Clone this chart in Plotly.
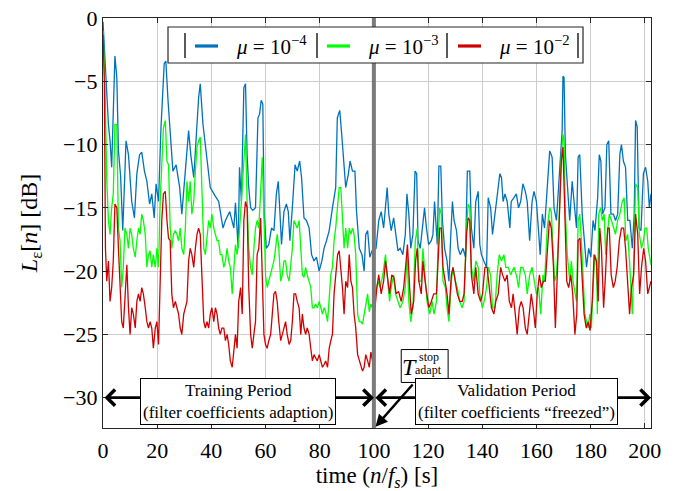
import plotly.graph_objects as go

# ---------------- data ----------------
blue_t = [0, 1.0, 2.0, 2.6, 3.2, 4.4, 5.1, 5.7, 6.5, 7.3, 8.5, 9.4, 10.6, 11.6, 12.5, 13.5, 14.3, 15.3, 16.2, 17.2,
          18.0, 18.9, 19.6, 20.5, 21.4, 22.6, 23.2, 24.0, 24.8, 25.8, 27.0, 28.3, 29.1, 30.4, 31.6, 32.5, 33.5, 35.3,
          35.9, 36.9, 38.1, 39.6, 41.5, 42.7, 44.3, 45.2, 46.8, 48.3, 48.9, 49.9, 50.4, 51.1, 52.0, 52.6, 53.2, 53.8,
          54.5, 55.3, 56.3, 57.2, 57.8, 58.4, 59.0, 59.5, 60.3, 61.2, 62.2, 63.1, 64.0, 64.7, 65.3, 65.9, 66.8, 67.7,
          68.4, 69.0, 69.9, 70.9, 71.7, 72.6, 73.3, 74.2, 75.1, 76.1, 77.0, 77.9, 78.8, 79.8, 80.8, 81.6, 82.5, 83.5,
          84.7, 85.9, 86.5, 87.4, 88.2, 89.0, 89.6, 90.6, 91.2, 92.1, 93.0, 93.6, 94.6, 95.6, 96.4, 97.0, 97.7, 98.5,
          99.3, 100.1, 100.8, 101.8, 102.7, 103.6, 104.3, 104.9, 105.5, 106.4, 107.3, 108.0, 108.9, 109.7, 110.7,
          111.6, 112.2, 112.9, 113.6, 114.4, 115.2, 115.8, 116.3, 117.1, 118.1, 118.7, 119.4, 120.2, 121.2, 121.8,
          122.4, 123.4, 124.0, 124.7, 125.3, 126.1, 127.0, 127.7, 128.4, 129.0, 129.6, 130.5, 131.1, 131.9, 132.9,
          133.8, 134.5, 135.4, 136.0, 136.9, 137.6, 138.5, 139.1, 139.7, 140.6, 141.6, 142.2, 143.1, 143.8, 144.7,
          145.5, 146.5, 147.1, 147.7, 148.4, 149.2, 150.2, 150.7, 151.7, 152.6, 153.4, 154.2, 155.0, 155.9, 156.6,
          157.5, 158.4, 159.1, 160.0, 160.6, 161.4, 162.2, 163.0, 164.0, 164.9, 165.8, 166.5, 167.4, 168.2, 169.0,
          169.5, 169.8, 170.2, 170.7, 171.4, 172.3, 173.2, 173.9, 174.8, 175.4, 176.0, 176.9, 177.6, 178.5, 179.3,
          180.1, 180.9, 181.6, 182.6, 183.2, 183.8, 184.4, 185.3, 186.0, 186.7, 187.5, 188.4, 189.2, 190.0, 190.8,
          191.4, 192.1, 192.9, 193.7, 194.5, 195.4, 196.1, 196.6, 197.2, 197.9, 198.6, 199.5, 200.3, 201.1, 201.7,
          202.3]
blue_v = [-0.3, -4.5, -8.4, -9.7, -11.8, -3.0, -4.7, -10.5, -12.5, -16.8, -9.7, -10.8, -14.5, -15.8, -12.3, -10.8,
          -10.6, -12.1, -12.9, -14.7, -13.9, -15.8, -13.1, -14.5, -8.7, -3.6, -3.4, -6.5, -9.4, -12.1, -11.6, -13.4,
          -15.5, -12.3, -8.9, -11.0, -12.6, -6.3, -5.2, -8.4, -10.8, -13.4, -14.1, -14.5, -16.6, -16.0, -15.3, -16.6,
          -14.6, -18.2, -11.8, -14.5, -5.5, -5.2, -10.8, -13.4, -15.0, -15.2, -15.0, -7.9, -7.6, -6.5, -6.8, -15.5,
          -18.2, -17.9, -16.6, -16.8, -13.9, -12.9, -15.3, -17.9, -15.3, -14.7, -15.3, -17.6, -15.0, -11.6, -12.1,
          -11.3, -12.6, -15.8, -16.0, -16.6, -18.7, -19.2, -18.9, -20.0, -19.2, -18.2, -17.6, -16.8, -15.0, -13.4,
          -7.9, -7.3, -9.4, -11.8, -13.4, -12.3, -11.3, -12.1, -12.1, -15.3, -18.2, -18.7, -20.0, -17.1, -16.8,
          -18.9, -18.4, -18.4, -18.2, -16.0, -15.3, -16.6, -14.5, -13.4, -15.5, -16.8, -15.8, -17.1, -18.4, -18.2,
          -18.7, -17.1, -13.9, -15.5, -18.2, -17.1, -12.1, -12.3, -17.6, -18.2, -16.0, -15.0, -16.6, -17.9, -17.6,
          -17.1, -14.5, -17.9, -11.7, -11.7, -16.0, -18.2, -19.2, -20.8, -17.1, -14.5, -16.0, -16.8, -18.2, -18.7,
          -18.2, -18.9, -12.1, -12.1, -16.6, -18.2, -14.5, -13.7, -17.9, -18.7, -19.2, -19.7, -14.2, -15.0, -17.1,
          -15.5, -14.5, -12.3, -12.6, -14.5, -13.9, -14.5, -16.6, -14.5, -14.2, -13.9, -15.0, -14.5, -13.1, -13.7,
          -14.5, -17.6, -14.5, -13.7, -14.5, -16.0, -18.7, -15.5, -16.6, -13.4, -10.5, -11.0, -15.0, -16.0, -13.4,
          -10.8, -8.9, -4.6, -4.7, -10.8, -12.9, -16.0, -12.9, -14.7, -16.6, -11.0, -10.8, -15.5, -17.6, -19.7,
          -18.2, -18.9, -16.0, -16.8, -14.2, -10.8, -11.3, -15.5, -15.0, -10.0, -9.7, -15.5, -15.5, -16.0, -15.5,
          -10.8, -10.0, -11.3, -11.8, -16.0, -16.0, -18.2, -15.5, -8.1, -8.6, -16.6, -16.8, -12.3, -11.8, -12.9,
          -15.0, -13.9]

green_t = [0, 0.7, 1.4, 2.0, 2.6, 3.2, 3.8, 4.4, 5.1, 5.7, 6.3, 6.9, 7.5, 8.1, 8.8, 9.4, 10.0, 10.6, 11.2, 11.9,
           12.5, 13.1, 13.7, 14.3, 14.9, 15.6, 16.2, 16.8, 17.4, 18.0, 18.6, 19.3, 19.9, 20.5, 21.1, 21.7, 22.3,
           23.0, 23.6, 24.2, 24.8, 25.4, 26.0, 26.7, 27.3, 27.9, 28.5, 29.1, 29.8, 30.4, 31.0, 31.6, 32.2, 32.8,
           33.5, 34.1, 34.7, 35.3, 35.9, 36.5, 37.2, 37.8, 38.4, 39.0, 39.6, 40.2, 40.9, 41.5, 42.1, 42.7, 43.3,
           43.9, 44.6, 45.2, 45.8, 46.4, 47.0, 47.7, 48.3, 48.9, 49.5, 50.1, 50.8, 51.4, 52.0, 52.6, 53.2, 53.8,
           54.5, 55.1, 55.7, 56.3, 56.9, 57.5, 58.2, 58.8, 59.4, 60.0, 60.6, 61.2, 61.9, 62.5, 63.1, 63.7, 64.3,
           64.9, 65.6, 66.2, 66.8, 67.4, 68.0, 68.7, 69.3, 69.9, 70.5, 71.1, 71.7, 72.4, 73.0, 73.6, 74.2, 74.8,
           75.4, 76.1, 76.7, 77.3, 77.9, 78.5, 79.1, 79.8, 80.4, 81.0, 81.6, 82.2, 82.9, 83.5, 84.1, 84.7, 85.3,
           85.9, 86.6, 87.2, 87.8, 88.4, 89.0, 89.6, 90.3, 90.9, 91.5, 92.1, 92.7, 93.3, 94.0, 94.6, 95.2, 95.8,
           96.4, 97.0, 97.7, 98.3, 98.9, 99.5, 100.1, 101.5, 102.3, 103.3, 104.3, 104.9, 105.8, 106.4, 107.3,
           108.0, 108.9, 109.7, 110.7, 111.6, 112.3, 112.9, 113.6, 114.4, 115.3, 116.0, 116.6, 117.5, 118.1,
           118.7, 119.6, 120.6, 121.5, 122.2, 123.1, 123.8, 124.3, 124.9, 125.5, 126.4, 127.0, 127.7, 128.6,
           129.2, 130.1, 130.8, 131.7, 132.6, 133.3, 134.2, 134.8, 135.4, 136.0, 136.9, 137.6, 138.5, 139.1,
           140.0, 140.7, 141.6, 142.2, 143.1, 143.8, 144.7, 145.5, 146.3, 147.1, 148.0, 148.7, 149.6, 150.5,
           151.7, 152.6, 153.4, 154.2, 155.0, 155.9, 156.6, 157.5, 158.4, 159.1, 160.0, 160.8, 161.6, 162.4,
           163.0, 164.0, 164.9, 165.5, 166.1, 166.7, 167.4, 168.0, 168.6, 169.2, 169.8, 170.2, 170.7, 171.4,
           172.3, 172.9, 173.5, 174.2, 174.8, 175.4, 176.0, 176.6, 177.2, 177.9, 178.5, 179.1, 179.7, 180.3,
           180.9, 181.6, 182.2, 182.5, 183.0, 183.7, 184.3, 185.0, 185.6, 186.3, 186.9, 187.7, 188.4, 189.2,
           190.0, 190.8, 191.7, 192.4, 193.0, 193.7, 194.5, 195.4, 196.1, 196.6, 197.4, 198.0, 198.8, 199.5,
           200.1, 200.7, 201.3, 201.9, 202.3]
green_v = [-1.0, -5.0, -12.9, -16.0, -17.1, -15.0, -13.9, -8.4, -8.4, -16.6, -17.6, -21.3, -19.7, -16.6, -17.1,
           -18.2, -16.6, -17.1, -18.2, -18.9, -17.6, -16.6, -17.1, -15.5, -16.0, -17.1, -19.7, -18.7, -18.4, -19.7,
           -18.7, -19.7, -18.2, -19.7, -14.5, -10.8, -8.7, -8.1, -11.3, -11.6, -16.6, -18.2, -17.1, -16.8, -17.1,
           -17.6, -16.6, -18.2, -18.7, -16.6, -12.9, -14.5, -12.9, -15.5, -14.5, -12.1, -10.2, -9.7, -9.4, -13.4,
           -18.2, -18.7, -17.1, -16.0, -16.6, -15.5, -16.6, -17.1, -17.6, -17.6, -18.7, -18.7, -19.7, -19.2, -18.2,
           -19.2, -19.7, -21.8, -19.7, -17.9, -18.7, -17.6, -15.5, -13.4, -11.0, -9.2, -14.5, -18.2, -19.7, -20.3,
           -18.2, -16.6, -16.0, -16.6, -13.7, -11.0, -15.5, -20.3, -21.3, -20.8, -20.3, -19.7, -19.2, -18.2, -17.1,
           -18.2, -20.8, -20.3, -19.2, -19.2, -20.3, -20.8, -19.7, -18.2, -16.0, -16.3, -16.6, -16.0, -18.2, -20.3,
           -20.5, -19.7, -20.3, -20.8, -21.3, -22.9, -22.9, -22.6, -22.9, -22.4, -22.9, -23.4, -22.9, -23.2, -24.0,
           -21.8, -20.3, -19.7, -17.6, -16.6, -14.5, -13.4, -13.4, -15.5, -18.2, -16.6, -18.2, -16.6, -17.1, -16.6,
           -17.1, -18.7, -23.4, -24.0, -24.0, -24.2, -23.4, -22.4, -21.8, -23.2, -22.6, -22.9, -22.4, -20.8, -21.3,
           -20.3, -18.7, -20.3, -22.4, -21.3, -20.3, -21.8, -22.4, -22.9, -22.4, -21.3, -18.7, -22.4, -24.0, -22.9,
           -17.6, -16.6, -20.8, -20.8, -18.2, -19.7, -22.4, -23.4, -22.4, -23.4, -22.4, -17.1, -15.0, -15.5, -20.8,
           -21.3, -22.9, -24.0, -20.8, -19.7, -20.8, -21.3, -22.4, -22.9, -22.4, -16.6, -14.7, -15.0, -19.7, -20.8,
           -19.2, -19.7, -21.8, -22.9, -22.4, -21.3, -19.7, -20.3, -22.9, -22.9, -20.3, -18.7, -19.2, -18.7, -19.7,
           -19.7, -20.3, -19.7, -20.3, -21.3, -19.7, -19.7, -20.3, -21.8, -20.3, -19.7, -20.8, -21.8, -21.3, -23.4,
           -20.3, -20.8, -16.6, -15.0, -15.3, -18.2, -20.8, -20.3, -18.2, -14.5, -10.8, -9.2, -9.7, -15.5, -18.7,
           -20.8, -19.2, -20.8, -21.8, -22.4, -16.0, -15.5, -17.6, -20.8, -23.4, -24.0, -24.5, -23.4, -24.5, -21.3,
           -18.7, -19.2, -23.4, -15.5, -15.0, -16.0, -15.5, -18.7, -16.6, -15.5, -16.0, -16.6, -17.1, -16.0, -15.5,
           -14.5, -14.2, -17.6, -17.1, -19.7, -23.4, -18.2, -13.1, -13.4, -17.1, -18.2, -17.6, -16.6, -16.6, -18.2,
           -19.2, -19.5]

red_t = [0, 0.5, 0.9, 1.4, 2.0, 2.6, 3.2, 3.8, 4.4, 5.1, 5.7, 6.3, 6.9, 7.5, 8.1, 8.8, 9.4, 10.0, 10.6, 11.2, 11.9,
         12.5, 13.1, 13.7, 14.3, 14.9, 15.6, 16.2, 16.8, 17.4, 18.0, 18.6, 19.3, 19.9, 20.5, 21.1, 21.7, 22.3, 23.0,
         23.6, 24.2, 24.8, 25.4, 26.0, 26.7, 27.3, 27.9, 28.5, 29.1, 29.8, 30.4, 31.0, 31.6, 32.2, 32.8, 33.5, 34.1,
         34.7, 35.3, 35.9, 36.5, 37.2, 37.8, 38.4, 39.0, 39.6, 40.2, 40.9, 41.5, 42.1, 42.7, 43.3, 43.9, 44.6, 45.2,
         45.8, 46.4, 47.0, 47.7, 48.3, 48.9, 49.5, 50.1, 50.8, 51.4, 52.0, 52.6, 53.2, 53.8, 54.5, 55.1, 55.7, 56.3,
         56.9, 57.5, 58.2, 58.8, 59.4, 60.0, 60.6, 61.2, 61.9, 62.5, 63.1, 63.7, 64.3, 64.9, 65.6, 66.2, 66.8, 67.4,
         68.0, 68.7, 69.3, 69.9, 70.5, 71.1, 71.7, 72.4, 73.0, 73.6, 74.2, 74.8, 75.4, 76.1, 76.7, 77.3, 77.9, 78.5,
         79.1, 79.8, 80.4, 81.0, 81.6, 82.2, 82.9, 83.5, 84.1, 84.7, 85.3, 85.9, 86.6, 87.2, 87.8, 88.4, 89.0, 89.6,
         90.3, 90.9, 91.5, 92.1, 92.7, 93.3, 94.0, 94.6, 95.2, 95.8, 96.4, 97.0, 97.7, 98.3, 98.9, 99.5, 100.0,
         100.2, 101.1, 101.8, 102.7, 103.6, 104.3, 105.2, 105.8, 106.6, 107.4, 108.2, 109.1, 110.1, 111.0, 111.7,
         112.4, 113.2, 113.8, 114.7, 115.4, 116.0, 116.6, 117.5, 118.1, 118.9, 119.6, 120.3, 121.2, 122.1, 123.1,
         123.8, 124.3, 124.9, 125.5, 126.3, 127.0, 127.7, 128.6, 129.2, 130.1, 130.8, 131.7, 132.6, 133.3, 134.2,
         134.8, 135.4, 136.0, 136.9, 137.6, 138.5, 139.4, 140.1, 141.0, 141.8, 142.6, 143.4, 144.3, 145.0, 145.9,
         146.8, 147.5, 148.4, 149.2, 150.0, 150.8, 151.4, 152.2, 152.9, 153.7, 154.4, 155.1, 155.9, 156.6, 157.4,
         158.1, 158.8, 159.6, 160.3, 161.1, 161.8, 162.6, 163.3, 164.0, 164.8, 165.5, 166.3, 167.0, 167.7, 168.5,
         169.2, 169.8, 170.5, 171.2, 171.9, 172.7, 173.4, 174.2, 174.9, 175.4, 176.1, 176.9, 177.6, 178.4, 179.1,
         179.8, 180.6, 181.3, 182.1, 182.8, 183.4, 184.0, 184.8, 185.5, 186.3, 186.9, 187.6, 188.4, 189.1, 189.8,
         190.6, 191.4, 192.2, 192.9, 193.7, 194.4, 195.1, 195.9, 196.6, 197.4, 198.1, 198.8, 199.6, 200.3, 201.1,
         201.8, 202.3]
red_v = [-1.3, -5.0, -18.2, -20.8, -19.2, -22.4, -21.3, -19.2, -14.7, -15.0, -18.2, -21.8, -24.0, -24.5, -22.4,
         -19.5, -22.9, -25.0, -22.9, -23.4, -24.5, -22.4, -21.8, -22.4, -21.3, -21.8, -22.9, -24.0, -24.5, -24.0,
         -24.5, -26.1, -24.5, -24.0, -25.8, -20.8, -16.0, -13.9, -13.7, -16.0, -17.4, -17.6, -21.8, -22.9, -22.4,
         -22.9, -23.4, -24.5, -25.0, -23.4, -22.9, -22.4, -19.2, -18.2, -18.7, -19.7, -18.2, -17.1, -16.6, -17.1,
         -20.3, -24.0, -24.5, -24.0, -24.5, -23.4, -22.9, -24.0, -22.9, -23.4, -24.5, -25.0, -24.5, -24.5, -25.5,
         -25.0, -25.8, -27.1, -27.6, -26.1, -25.0, -26.1, -22.4, -21.3, -23.4, -16.0, -14.5, -15.0, -21.3, -25.0,
         -26.1, -25.0, -24.0, -18.7, -18.2, -15.8, -19.7, -25.0, -25.8, -26.1, -25.5, -25.0, -23.4, -21.8, -21.6,
         -22.4, -24.0, -25.5, -25.0, -24.5, -24.0, -25.0, -25.8, -25.5, -24.0, -21.8, -21.8, -22.4, -22.9, -25.0,
         -23.4, -24.5, -25.0, -24.5, -25.0, -26.1, -27.1, -26.6, -26.9, -27.1, -26.6, -27.1, -27.6, -27.4, -27.1,
         -27.6, -26.1, -25.5, -25.0, -21.8, -20.3, -18.7, -18.4, -19.7, -21.3, -23.4, -20.8, -21.3, -18.7, -20.8,
         -21.3, -23.4, -24.5, -26.6, -27.1, -27.6, -27.9, -27.6, -26.6, -27.1, -27.6, -26.4, -27.1, -28.2, -23.4,
         -21.3, -20.3, -21.8, -20.8, -19.2, -20.8, -21.8, -20.3, -20.5, -21.8, -21.6, -22.4, -21.3, -19.7, -17.9,
         -21.3, -23.4, -22.4, -19.2, -18.2, -20.8, -21.8, -19.2, -20.8, -21.8, -22.9, -22.4, -21.8, -21.8, -18.7,
         -16.6, -16.6, -19.7, -20.8, -21.8, -23.4, -20.3, -19.7, -20.8, -21.8, -22.4, -22.4, -21.8, -17.1, -15.8,
         -16.0, -20.3, -21.8, -19.7, -21.8, -22.4, -21.8, -19.7, -19.7, -21.3, -22.9, -23.4, -22.4, -21.8, -19.7,
         -20.3, -20.8, -20.3, -22.4, -22.9, -21.8, -23.4, -25.0, -22.9, -22.4, -22.9, -24.5, -25.0, -23.4, -21.8,
         -22.9, -24.5, -21.8, -20.3, -21.3, -20.8, -20.8, -18.2, -16.0, -16.6, -19.7, -24.5, -20.0, -16.0, -11.3,
         -10.2, -16.0, -20.8, -21.3, -20.3, -21.8, -25.0, -23.4, -17.6, -17.4, -20.8, -23.4, -24.5, -24.0, -24.7,
         -22.4, -18.7, -19.2, -22.4, -16.6, -18.2, -22.9, -20.3, -16.6, -16.6, -20.3, -21.3, -20.8, -19.7, -17.6,
         -16.6, -16.6, -18.2, -20.8, -23.4, -21.3, -20.3, -15.5, -17.1, -21.8, -19.7, -18.2, -19.2, -21.8, -21.3,
         -20.8]

series_names = ["<i>μ</i> = 10<sup>−4</sup>", "<i>μ</i> = 10<sup>−3</sup>", "<i>μ</i> = 10<sup>−2</sup>"]
series_colors = ["#0072BD", "#00FF00", "#D00000"]

x_ticks = list(range(0, 201, 20))
y_ticks = list(range(-30, 1, 5))
t_stop = 100
x_max = 202.3
y_min = -32.4

FONT = "Liberation Serif"

# plot-area geometry in pixels (used only for placing the hand-drawn legend)
L, R, T, B = 103, 23, 18, 63
PW, PH = 674 - L - R, 491 - T - B


def px(xp):
    return (xp - L) / PW


def py(yp):
    return 1 - (yp - T) / PH


fig = go.Figure()
for t, v, nm, col in zip([blue_t, green_t, red_t], [blue_v, green_v, red_v], series_names, series_colors):
    fig.add_trace(go.Scatter(x=t, y=v, mode="lines", name=nm, showlegend=False,
                             line=dict(color=col, width=1.3)))

shapes = []
# thick grey line marking the adaptation stop
shapes.append(dict(type="line", x0=t_stop, x1=t_stop, y0=0, y1=1, xref="x", yref="paper",
                   line=dict(color="#7a7a7a", width=4), layer="above"))
# T_adapt box
shapes.append(dict(type="rect", x0=110.1, x1=127.4, y0=-28.8, y1=-26.2, xref="x", yref="y",
                   line=dict(color="black", width=1), fillcolor="white", layer="above"))

# hand-drawn legend (box, separators, line samples)
shapes.append(dict(type="rect", x0=px(168), x1=px(583), y0=py(63), y1=py(27), xref="paper", yref="paper",
                   line=dict(color="#262626", width=1.2), fillcolor="white", layer="above"))
for bx in [185, 317, 447, 578]:
    shapes.append(dict(type="line", x0=px(bx), x1=px(bx), y0=py(58), y1=py(33), xref="paper", yref="paper",
                       line=dict(color="black", width=1.3), layer="above"))
line_starts = [195, 327, 458]
text_starts = [234, 366, 497]
for ls, col in zip(line_starts, series_colors):
    shapes.append(dict(type="line", x0=px(ls), x1=px(ls + 23), y0=py(46), y1=py(46), xref="paper",
                       yref="paper", line=dict(color=col, width=3.2), layer="above"))

annotations = []
for ts, nm in zip(text_starts, series_names):
    annotations.append(dict(x=px(ts), y=py(45), xref="paper", yref="paper", xanchor="left", yanchor="middle",
                            showarrow=False, text=nm, font=dict(family=FONT, size=21, color="black")))

# double arrows
annotations.append(dict(x=t_stop, y=-30, ax=0, ay=-30, xref="x", yref="y", axref="x", ayref="y",
                        text="", showarrow=True, arrowside="end+start", arrowhead=4, startarrowhead=4,
                        arrowsize=1.2, startarrowsize=1.2, arrowwidth=2.6, arrowcolor="black", standoff=0,
                        startstandoff=0))
annotations.append(dict(x=x_max, y=-30, ax=t_stop, ay=-30, xref="x", yref="y", axref="x", ayref="y",
                        text="", showarrow=True, arrowside="end+start", arrowhead=4, startarrowhead=4,
                        arrowsize=1.2, startarrowsize=1.2, arrowwidth=2.6, arrowcolor="black", standoff=0,
                        startstandoff=0))
# T_adapt arrow
annotations.append(dict(x=100.6, y=-32.3, ax=114.8, ay=-28.85, xref="x", yref="y", axref="x", ayref="y",
                        text="", showarrow=True, arrowhead=2, arrowsize=1.0, arrowwidth=2.4,
                        arrowcolor="black", standoff=0))
# text boxes
annotations.append(dict(x=50, y=-30.3, xref="x", yref="y", showarrow=False,
                        text="Training Period<br>(filter coefficients adaption)",
                        font=dict(family=FONT, size=17, color="black"), align="center",
                        bgcolor="white", bordercolor="black", borderwidth=1, borderpad=2))
annotations.append(dict(x=152.8, y=-30.3, xref="x", yref="y", showarrow=False,
                        text="Validation Period<br>(filter coefficients “freezed”)",
                        font=dict(family=FONT, size=17, color="black"), align="center",
                        bgcolor="white", bordercolor="black", borderwidth=1, borderpad=2))
# T^stop_adapt label
annotations.append(dict(x=113.2, y=-27.55, xref="x", yref="y", showarrow=False, text="<i>T</i>",
                        font=dict(family=FONT, size=24, color="black")))
annotations.append(dict(x=120.2, y=-26.75, xref="x", yref="y", showarrow=False, text="stop",
                        font=dict(family=FONT, size=12, color="black")))
annotations.append(dict(x=120.2, y=-27.85, xref="x", yref="y", showarrow=False, text="adapt",
                        font=dict(family=FONT, size=12, color="black")))

axis_common = dict(showline=True, linecolor="#262626", linewidth=1.3, mirror="allticks",
                   ticks="inside", ticklen=5, tickcolor="#262626", tickwidth=1,
                   showgrid=True, gridcolor="#cccccc", gridwidth=1, zeroline=False, automargin=False,
                   tickfont=dict(family=FONT, size=22, color="black"))

fig.update_layout(
    width=674, height=491,
    margin=dict(l=L, r=R, t=T, b=B),
    paper_bgcolor="white", plot_bgcolor="white",
    font=dict(family=FONT, color="black"),
    xaxis=dict(range=[0, x_max], tickvals=x_ticks, ticklabelstandoff=2,
               title=dict(text="time (<i>n</i>/<i>f<sub>s</sub></i>) [s]",
                          font=dict(family=FONT, size=23), standoff=17),
               **axis_common),
    yaxis=dict(range=[y_min, 0], tickvals=y_ticks,
               title=dict(text="<i>L</i><sub>ε</sub>[<i>n</i>] [dB]",
                          font=dict(family=FONT, size=24), standoff=18),
               **axis_common),
    showlegend=False,
    shapes=shapes,
    annotations=annotations,
)

fig.write_html("out.html")
